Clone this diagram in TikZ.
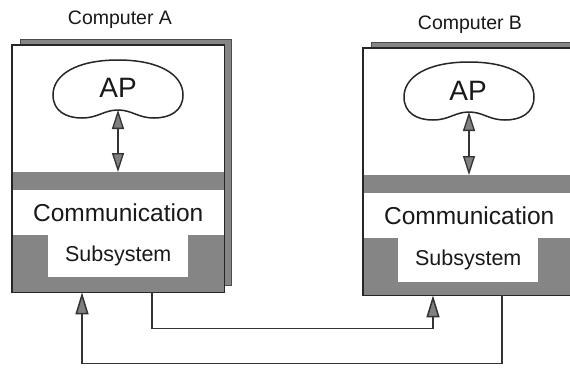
\documentclass[tikz,border=0pt]{standalone}
\usepackage{fontspec}
\setmainfont{Liberation Sans}
\usetikzlibrary{arrows.meta,calc}
\definecolor{panelgrey}{gray}{0.52}
\tikzset{
  boxline/.style={draw=black!85, line width=1.6pt},
  backbox/.style={fill=panelgrey, draw=black!70, line width=0.8pt},
  greypanel/.style={fill=panelgrey, draw=none, anchor=north west, inner sep=0pt},
  whitepanel/.style={fill=white, draw=none, anchor=north west, inner sep=0pt},
  titletext/.style={font=\fontsize{19.5}{22}\selectfont, text=black!90},
  commtext/.style={font=\fontsize{24.5}{28}\selectfont, text=black!90},
  subtext/.style={font=\fontsize{21.5}{24}\selectfont, text=black!90},
  aptext/.style={font=\fontsize{28}{32}\selectfont, text=black!90},
  dblarrow/.style={line width=1.3pt, draw=black!80,
    {Triangle[length=19pt,width=12pt,fill=gray]}-{Triangle[length=19pt,width=12pt,fill=gray]}},
  link/.style={line width=1.5pt, draw=black!80,
    -{Triangle[length=22pt,width=13pt,fill=gray]}},
  bean/.pic={
    \draw[line width=1.5pt, draw=black!85]
      (0,-29) .. controls (42,-29) and (65,-14) .. (65,6)
      .. controls (65,22) and (52,29) .. (36,29)
      .. controls (20,29) and (14,21) .. (0,21)
      .. controls (-14,21) and (-20,29) .. (-36,29)
      .. controls (-52,29) and (-65,22) .. (-65,6)
      .. controls (-65,-14) and (-42,-29) .. (0,-29) -- cycle;
    \coordinate (-dip) at (0,21);
  }
}
\begin{document}
\begin{tikzpicture}[x=1pt,y=-1pt]
\useasboundingbox (0,0) rectangle (570,368);
\clip (0,0) rectangle (570,368);
\fill[white] (0,0) rectangle (570,368);

% ---------- Computer A ----------
\node[titletext] (titleA) at (120,20) {Computer A};
\draw[backbox] (20,39) rectangle (231,285);
\node[whitepanel, minimum width=212pt, minimum height=247pt] (boxA) at (12,45) {};
\node[greypanel, minimum width=212pt, minimum height=120pt] (bandA) at (12,172) {};
\node[whitepanel, minimum width=212pt, minimum height=45pt, commtext] (commA) at (12,190) {Communication};
\node[whitepanel, minimum width=140pt, minimum height=42pt, subtext] (subA) at (48,235) {Subsystem};
\draw[boxline] (boxA.north west) rectangle (boxA.south east);
\pic (cloudA) at (118,89) {bean};
\node[aptext] (apA) at (118,88) {AP};
\draw[dblarrow] (cloudA-dip) -- (cloudA-dip |- bandA.north);

% ---------- Computer B ----------
\node[titletext] (titleB) at (470,25) {Computer B};
\draw[backbox] (371,42) rectangle (582,288);
\node[whitepanel, minimum width=212pt, minimum height=247pt] (boxB) at (363,48) {};
\node[greypanel, minimum width=212pt, minimum height=120pt] (bandB) at (363,175) {};
\node[whitepanel, minimum width=212pt, minimum height=45pt, commtext] (commB) at (363,193) {Communication};
\node[whitepanel, minimum width=140pt, minimum height=44pt, subtext] (subB) at (398,238) {Subsystem};
\draw[boxline] (boxB.north west) rectangle (boxB.south east);
\pic (cloudB) at (469,91) {bean};
\node[aptext] (apB) at (468,91) {AP};
\draw[dblarrow] (cloudB-dip) -- (cloudB-dip |- bandB.north);

% ---------- links between the two subsystems ----------
\draw[link] ($(boxA.south west)+(140,0)$) -- ++(0,36) -| ($(boxB.south west)+(70,0)$);
\draw[link] ($(boxB.south west)+(139,0)$) -- ++(0,68) -| ($(boxA.south west)+(70,0)$);
\end{tikzpicture}
\end{document}
